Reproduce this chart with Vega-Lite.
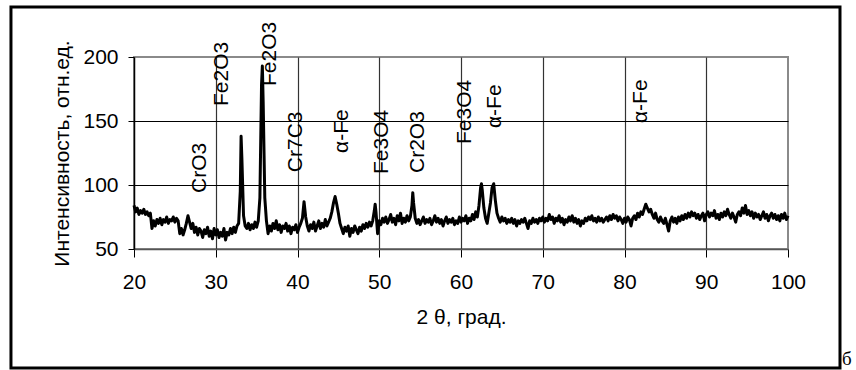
{
  "$schema": "https://vega.github.io/schema/vega-lite/v6.json",
  "autosize": "none",
  "width": 654,
  "height": 192,
  "padding": {"left": 134, "top": 57, "right": 68, "bottom": 121},
  "background": "white",
  "config": {
    "font": "Liberation Sans",
    "view": {"stroke": "#8a8a8a", "strokeWidth": 2},
    "axis": {
      "labelFont": "Liberation Sans",
      "titleFont": "Liberation Sans",
      "labelFontSize": 21,
      "titleFontSize": 21,
      "titleFontWeight": "normal",
      "labelColor": "black",
      "titleColor": "black",
      "tickColor": "black",
      "domainColor": "black",
      "labelFlush": false,
      "gridOpacity": 1
    }
  },
  "datasets": {
    "xrd": [
      {"t":20.0,"i":84},{"t":20.2,"i":79},{"t":20.4,"i":82},{"t":20.6,"i":77},{"t":20.8,"i":80},
      {"t":21.0,"i":78},{"t":21.2,"i":81},{"t":21.4,"i":77},{"t":21.6,"i":79},{"t":21.8,"i":76},
      {"t":22.0,"i":78},{"t":22.2,"i":66},{"t":22.4,"i":72},{"t":22.6,"i":68},{"t":22.8,"i":73},
      {"t":23.0,"i":70},{"t":23.2,"i":74},{"t":23.4,"i":69},{"t":23.6,"i":73},{"t":23.8,"i":71},
      {"t":24.0,"i":75},{"t":24.2,"i":70},{"t":24.4,"i":73},{"t":24.6,"i":72},{"t":24.8,"i":75},
      {"t":25.0,"i":71},{"t":25.2,"i":74},{"t":25.4,"i":72},{"t":25.6,"i":62},{"t":25.8,"i":66},
      {"t":26.0,"i":61},{"t":26.2,"i":65},{"t":26.4,"i":70},{"t":26.6,"i":76},{"t":26.8,"i":71},
      {"t":27.0,"i":66},{"t":27.2,"i":70},{"t":27.4,"i":63},{"t":27.6,"i":67},{"t":27.8,"i":61},
      {"t":28.0,"i":66},{"t":28.2,"i":64},{"t":28.4,"i":59},{"t":28.6,"i":65},{"t":28.8,"i":62},
      {"t":29.0,"i":67},{"t":29.2,"i":60},{"t":29.4,"i":64},{"t":29.6,"i":58},{"t":29.8,"i":66},
      {"t":30.0,"i":61},{"t":30.2,"i":65},{"t":30.4,"i":59},{"t":30.6,"i":63},{"t":30.8,"i":60},
      {"t":31.0,"i":66},{"t":31.2,"i":57},{"t":31.4,"i":63},{"t":31.6,"i":61},{"t":31.8,"i":66},
      {"t":32.0,"i":62},{"t":32.2,"i":67},{"t":32.4,"i":63},{"t":32.6,"i":68},{"t":32.8,"i":70},
      {"t":33.0,"i":95},{"t":33.1,"i":138},{"t":33.2,"i":120},{"t":33.4,"i":76},{"t":33.6,"i":68},
      {"t":33.8,"i":66},{"t":34.0,"i":70},{"t":34.2,"i":65},{"t":34.4,"i":69},{"t":34.6,"i":66},
      {"t":34.8,"i":71},{"t":35.0,"i":67},{"t":35.2,"i":72},{"t":35.4,"i":90},{"t":35.6,"i":178},
      {"t":35.7,"i":193},{"t":35.8,"i":165},{"t":36.0,"i":90},{"t":36.2,"i":72},{"t":36.4,"i":62},
      {"t":36.6,"i":68},{"t":36.8,"i":64},{"t":37.0,"i":70},{"t":37.2,"i":66},{"t":37.4,"i":72},
      {"t":37.6,"i":65},{"t":37.8,"i":69},{"t":38.0,"i":63},{"t":38.2,"i":68},{"t":38.4,"i":66},
      {"t":38.6,"i":70},{"t":38.8,"i":64},{"t":39.0,"i":68},{"t":39.2,"i":62},{"t":39.4,"i":67},
      {"t":39.6,"i":65},{"t":39.8,"i":69},{"t":40.0,"i":63},{"t":40.2,"i":67},{"t":40.4,"i":70},
      {"t":40.6,"i":74},{"t":40.8,"i":87},{"t":41.0,"i":75},{"t":41.2,"i":68},{"t":41.4,"i":64},
      {"t":41.6,"i":69},{"t":41.8,"i":66},{"t":42.0,"i":71},{"t":42.2,"i":64},{"t":42.4,"i":68},
      {"t":42.6,"i":72},{"t":42.8,"i":66},{"t":43.0,"i":70},{"t":43.2,"i":67},{"t":43.4,"i":73},
      {"t":43.6,"i":68},{"t":43.8,"i":71},{"t":44.0,"i":74},{"t":44.2,"i":79},{"t":44.4,"i":86},
      {"t":44.6,"i":91},{"t":44.8,"i":85},{"t":45.0,"i":78},{"t":45.2,"i":70},{"t":45.4,"i":66},
      {"t":45.6,"i":62},{"t":45.8,"i":67},{"t":46.0,"i":64},{"t":46.2,"i":68},{"t":46.4,"i":60},
      {"t":46.6,"i":66},{"t":46.8,"i":63},{"t":47.0,"i":68},{"t":47.2,"i":65},{"t":47.4,"i":62},
      {"t":47.6,"i":67},{"t":47.8,"i":64},{"t":48.0,"i":69},{"t":48.2,"i":66},{"t":48.4,"i":70},
      {"t":48.6,"i":67},{"t":48.8,"i":71},{"t":49.0,"i":68},{"t":49.2,"i":72},{"t":49.4,"i":80},
      {"t":49.5,"i":85},{"t":49.6,"i":79},{"t":49.8,"i":62},{"t":50.0,"i":72},{"t":50.2,"i":69},
      {"t":50.4,"i":74},{"t":50.6,"i":71},{"t":50.8,"i":75},{"t":51.0,"i":70},{"t":51.2,"i":73},
      {"t":51.4,"i":77},{"t":51.6,"i":71},{"t":51.8,"i":74},{"t":52.0,"i":69},{"t":52.2,"i":76},
      {"t":52.4,"i":72},{"t":52.6,"i":78},{"t":52.8,"i":70},{"t":53.0,"i":74},{"t":53.2,"i":71},
      {"t":53.4,"i":76},{"t":53.6,"i":72},{"t":53.8,"i":75},{"t":54.0,"i":84},{"t":54.1,"i":94},
      {"t":54.2,"i":86},{"t":54.4,"i":74},{"t":54.6,"i":70},{"t":54.8,"i":73},{"t":55.0,"i":69},
      {"t":55.2,"i":72},{"t":55.4,"i":75},{"t":55.6,"i":70},{"t":55.8,"i":73},{"t":56.0,"i":71},
      {"t":56.2,"i":74},{"t":56.4,"i":69},{"t":56.6,"i":72},{"t":56.8,"i":76},{"t":57.0,"i":71},
      {"t":57.2,"i":74},{"t":57.4,"i":70},{"t":57.6,"i":73},{"t":57.8,"i":68},{"t":58.0,"i":72},
      {"t":58.2,"i":75},{"t":58.4,"i":70},{"t":58.6,"i":73},{"t":58.8,"i":71},{"t":59.0,"i":74},
      {"t":59.2,"i":69},{"t":59.4,"i":72},{"t":59.6,"i":70},{"t":59.8,"i":75},{"t":60.0,"i":71},
      {"t":60.2,"i":74},{"t":60.4,"i":72},{"t":60.6,"i":76},{"t":60.8,"i":70},{"t":61.0,"i":74},
      {"t":61.2,"i":72},{"t":61.4,"i":77},{"t":61.6,"i":73},{"t":61.8,"i":79},{"t":62.0,"i":75},
      {"t":62.2,"i":84},{"t":62.4,"i":98},{"t":62.5,"i":101},{"t":62.6,"i":96},{"t":62.8,"i":82},
      {"t":63.0,"i":74},{"t":63.2,"i":70},{"t":63.4,"i":78},{"t":63.6,"i":86},{"t":63.8,"i":98},
      {"t":64.0,"i":101},{"t":64.2,"i":88},{"t":64.4,"i":78},{"t":64.6,"i":74},{"t":64.8,"i":71},
      {"t":65.0,"i":75},{"t":65.2,"i":72},{"t":65.4,"i":74},{"t":65.6,"i":70},{"t":65.8,"i":73},
      {"t":66.0,"i":71},{"t":66.2,"i":74},{"t":66.4,"i":70},{"t":66.6,"i":73},{"t":66.8,"i":68},
      {"t":67.0,"i":72},{"t":67.2,"i":70},{"t":67.4,"i":73},{"t":67.6,"i":71},{"t":67.8,"i":74},
      {"t":68.0,"i":70},{"t":68.2,"i":66},{"t":68.4,"i":72},{"t":68.6,"i":70},{"t":68.8,"i":74},
      {"t":69.0,"i":71},{"t":69.2,"i":73},{"t":69.4,"i":70},{"t":69.6,"i":74},{"t":69.8,"i":72},
      {"t":70.0,"i":75},{"t":70.2,"i":71},{"t":70.4,"i":74},{"t":70.6,"i":72},{"t":70.8,"i":77},
      {"t":71.0,"i":73},{"t":71.2,"i":75},{"t":71.4,"i":70},{"t":71.6,"i":74},{"t":71.8,"i":72},
      {"t":72.0,"i":76},{"t":72.2,"i":71},{"t":72.4,"i":74},{"t":72.6,"i":69},{"t":72.8,"i":73},
      {"t":73.0,"i":71},{"t":73.2,"i":75},{"t":73.4,"i":72},{"t":73.6,"i":76},{"t":73.8,"i":71},
      {"t":74.0,"i":74},{"t":74.2,"i":70},{"t":74.4,"i":73},{"t":74.6,"i":68},{"t":74.8,"i":72},
      {"t":75.0,"i":70},{"t":75.2,"i":74},{"t":75.4,"i":72},{"t":75.6,"i":75},{"t":75.8,"i":73},
      {"t":76.0,"i":76},{"t":76.2,"i":72},{"t":76.4,"i":74},{"t":76.6,"i":71},{"t":76.8,"i":75},
      {"t":77.0,"i":72},{"t":77.2,"i":74},{"t":77.4,"i":71},{"t":77.6,"i":73},{"t":77.8,"i":75},
      {"t":78.0,"i":72},{"t":78.2,"i":76},{"t":78.4,"i":73},{"t":78.6,"i":77},{"t":78.8,"i":74},
      {"t":79.0,"i":76},{"t":79.2,"i":72},{"t":79.4,"i":75},{"t":79.6,"i":73},{"t":79.8,"i":70},
      {"t":80.0,"i":74},{"t":80.2,"i":71},{"t":80.4,"i":75},{"t":80.6,"i":73},{"t":80.8,"i":68},
      {"t":81.0,"i":74},{"t":81.2,"i":76},{"t":81.4,"i":73},{"t":81.6,"i":78},{"t":81.8,"i":75},
      {"t":82.0,"i":79},{"t":82.2,"i":77},{"t":82.4,"i":81},{"t":82.6,"i":85},{"t":82.8,"i":82},
      {"t":83.0,"i":79},{"t":83.2,"i":81},{"t":83.4,"i":77},{"t":83.6,"i":74},{"t":83.8,"i":78},
      {"t":84.0,"i":73},{"t":84.2,"i":71},{"t":84.4,"i":75},{"t":84.6,"i":72},{"t":84.8,"i":70},
      {"t":85.0,"i":74},{"t":85.2,"i":69},{"t":85.4,"i":64},{"t":85.6,"i":72},{"t":85.8,"i":75},
      {"t":86.0,"i":71},{"t":86.2,"i":74},{"t":86.4,"i":70},{"t":86.6,"i":75},{"t":86.8,"i":72},
      {"t":87.0,"i":76},{"t":87.2,"i":73},{"t":87.4,"i":77},{"t":87.6,"i":74},{"t":87.8,"i":78},
      {"t":88.0,"i":75},{"t":88.2,"i":79},{"t":88.4,"i":76},{"t":88.6,"i":78},{"t":88.8,"i":74},
      {"t":89.0,"i":77},{"t":89.2,"i":73},{"t":89.4,"i":76},{"t":89.6,"i":78},{"t":89.8,"i":72},
      {"t":90.0,"i":77},{"t":90.2,"i":79},{"t":90.4,"i":75},{"t":90.6,"i":78},{"t":90.8,"i":76},
      {"t":91.0,"i":80},{"t":91.2,"i":74},{"t":91.4,"i":77},{"t":91.6,"i":73},{"t":91.8,"i":78},
      {"t":92.0,"i":75},{"t":92.2,"i":79},{"t":92.4,"i":76},{"t":92.6,"i":81},{"t":92.8,"i":77},
      {"t":93.0,"i":74},{"t":93.2,"i":78},{"t":93.4,"i":75},{"t":93.6,"i":71},{"t":93.8,"i":77},
      {"t":94.0,"i":79},{"t":94.2,"i":76},{"t":94.4,"i":82},{"t":94.6,"i":78},{"t":94.8,"i":84},
      {"t":95.0,"i":77},{"t":95.2,"i":80},{"t":95.4,"i":76},{"t":95.6,"i":79},{"t":95.8,"i":74},
      {"t":96.0,"i":78},{"t":96.2,"i":75},{"t":96.4,"i":77},{"t":96.6,"i":73},{"t":96.8,"i":76},
      {"t":97.0,"i":79},{"t":97.2,"i":74},{"t":97.4,"i":77},{"t":97.6,"i":72},{"t":97.8,"i":76},
      {"t":98.0,"i":78},{"t":98.2,"i":74},{"t":98.4,"i":77},{"t":98.6,"i":73},{"t":98.8,"i":76},
      {"t":99.0,"i":72},{"t":99.2,"i":77},{"t":99.4,"i":74},{"t":99.6,"i":78},{"t":99.8,"i":73},
      {"t":100.0,"i":76}
    ],
    "phases": [
      {"t":28.1,"i":93.8,"label":"CrO3"},
      {"t":30.8,"i":161.7,"label":"Fe2O3"},
      {"t":36.6,"i":177.3,"label":"Fe2O3"},
      {"t":39.8,"i":110.0,"label":"Cr7C3"},
      {"t":45.5,"i":125.0,"label":"α-Fe"},
      {"t":50.3,"i":108.6,"label":"Fe3O4"},
      {"t":54.7,"i":109.4,"label":"Cr2O3"},
      {"t":60.5,"i":132.0,"label":"Fe3O4"},
      {"t":64.1,"i":144.5,"label":"α-Fe"},
      {"t":82.0,"i":148.4,"label":"α-Fe"}
    ]
  },
  "layer": [
    {
      "data": {"values": [{}]},
      "mark": {"type": "rect", "fill": null, "stroke": "black", "strokeWidth": 3},
      "encoding": {
        "x": {"datum": 4.95, "type": "quantitative"},
        "x2": {"datum": 106.36},
        "y": {"datum": -42.97, "type": "quantitative"},
        "y2": {"datum": 239.06}
      }
    },
    {
      "data": {"name": "xrd"},
      "mark": {"type": "line", "color": "black", "strokeWidth": 3, "strokeJoin": "round"},
      "encoding": {
        "x": {
          "field": "t",
          "type": "quantitative",
          "scale": {"domain": [20, 100], "nice": false, "zero": false},
          "axis": {
            "values": [20, 30, 40, 50, 60, 70, 80, 90, 100],
            "title": "2 θ, град.",
            "grid": true,
            "gridColor": {"condition": {"test": "datum.value == 20 || datum.value == 100", "value": "transparent"}, "value": "#333333"},
            "gridWidth": 1.2,
            "domainColor": "#555555",
            "domainWidth": 1.5,
            "tickSize": 8,
            "labelPadding": 14,
            "titlePadding": 14
          }
        },
        "y": {
          "field": "i",
          "type": "quantitative",
          "scale": {"domain": [50, 200], "nice": false, "zero": false},
          "axis": {
            "values": [50, 100, 150, 200],
            "title": "Интенсивность, отн.ед.",
            "grid": true,
            "gridColor": {"condition": {"test": "datum.value == 50 || datum.value == 200", "value": "transparent"}, "value": "black"},
            "gridWidth": 1.2,
            "domainWidth": 1.5,
            "tickSize": 6,
            "labelPadding": 10,
            "titlePadding": 10
          }
        }
      }
    },
    {
      "data": {"name": "phases"},
      "mark": {"type": "text", "angle": 270, "align": "left", "baseline": "middle", "fontSize": 21, "font": "Liberation Sans", "color": "black"},
      "encoding": {
        "x": {"field": "t", "type": "quantitative"},
        "y": {"field": "i", "type": "quantitative"},
        "text": {"field": "label"}
      }
    },
    {
      "data": {"values": [{}]},
      "mark": {"type": "text", "align": "left", "baseline": "alphabetic", "fontSize": 19, "font": "Liberation Serif", "color": "black"},
      "encoding": {
        "x": {"datum": 106.6, "type": "quantitative"},
        "y": {"datum": -40.6, "type": "quantitative"},
        "text": {"value": "б"}
      }
    }
  ]
}
